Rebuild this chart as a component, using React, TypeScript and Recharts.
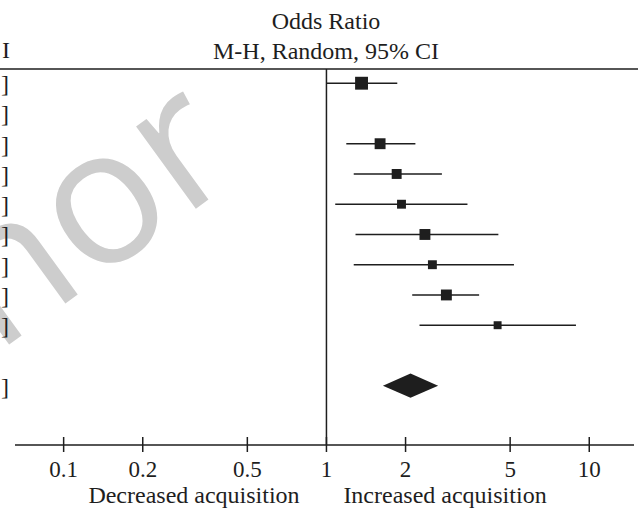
import React from 'react';
import { ScatterChart, Scatter, ErrorBar, XAxis, YAxis, ReferenceLine, ReferenceArea } from 'recharts';

// rows of the forest plot (row 10 is empty, row 11 is the pooled estimate)
const bracketRows = [1, 2, 3, 4, 5, 6, 7, 8, 9, 11];
const studyRows = [1, 3, 4, 5, 6, 7, 8, 9];
const studyOR = [1.36, 1.6, 1.85, 1.93, 2.37, 2.53, 2.86, 4.48];
const studyLow = [1.0, 1.19, 1.27, 1.08, 1.29, 1.27, 2.12, 2.26];
const studyHigh = [1.86, 2.18, 2.75, 3.44, 4.51, 5.17, 3.81, 8.9];
const studyWeight = [19.7, 14.1, 11.7, 9.4, 14.1, 9.4, 14.1, 7.5];

const totalRow = 11;
const totalOR = 2.06;
const totalLow = 1.64;
const totalHigh = 2.66;

const xTicks = [0.1, 0.2, 0.5, 1, 2, 5, 10];

const serif = "'Liberation Serif', 'Times New Roman', serif";
const ink = '#1e1e1e';

const studies = studyRows.map((row, i) => ({
    row,
    or: studyOR[i],
    weight: studyWeight[i],
    err: [studyOR[i] - studyLow[i], studyHigh[i] - studyOR[i]],
}));

const SquareMark = (props: any) => {
    const { cx, cy, payload } = props;
    const s = Math.sqrt(payload.weight) * 2.9;
    return <rect x={cx - s / 2} y={cy - s / 2} width={s} height={s} fill={ink} />;
};

const XTick = ({ x, y, payload }: any) => (
    <g>
        <line x1={x} x2={x} y1={y - 8} y2={y + 7} stroke={ink} strokeWidth={1.5} />
        <text x={x} y={y + 32} textAnchor="middle" fontFamily={serif} fontSize={23} fill={ink}>
            {String(payload.value)}
        </text>
    </g>
);

const YTick = ({ x, y }: any) => (
    <text x={x - 6} y={y + 9} textAnchor="end" fontFamily={serif} fontSize={24} fill={ink}>
        ]
    </text>
);

const Diamond = (props: any) => {
    const { x, y, width, height } = props;
    const mx = x + width / 2;
    const my = y + height / 2;
    return (
        <polygon
            points={`${x},${my} ${mx},${y} ${x + width},${my} ${mx},${y + height}`}
            fill={ink}
        />
    );
};

export default function App() {
    return (
        <div style={{ position: 'absolute', left: 0, top: 0, background: '#fff' }}>
            <ScatterChart width={638} height={512} margin={{ top: 69, right: 4, bottom: 7, left: 0 }}>
                <text
                    x={-4}
                    y={354}
                    transform="rotate(-36 -4 354)"
                    fontFamily="'Open Sans', sans-serif"
                    fontSize={190}
                    fill="#cdcdcd"
                >
                    hor
                </text>
                <XAxis
                    type="number"
                    dataKey="or"
                    scale="log"
                    domain={[0.0653, 14.8]}
                    allowDataOverflow
                    ticks={xTicks}
                    interval={0}
                    tick={<XTick />}
                    tickLine={false}
                    tickSize={0}
                    tickMargin={0}
                    height={60}
                    axisLine={{ stroke: ink, strokeWidth: 1.5 }}
                />
                <YAxis
                    type="number"
                    dataKey="row"
                    domain={[0.53, 12.96]}
                    reversed
                    allowDataOverflow
                    ticks={bracketRows}
                    interval={0}
                    width={15}
                    axisLine={false}
                    tickLine={false}
                    tickSize={0}
                    tickMargin={0}
                    tick={<YTick />}
                />
                <ReferenceLine x={1} stroke={ink} strokeWidth={1.5} />
                <ReferenceArea
                    x1={totalLow}
                    x2={totalHigh}
                    y1={totalRow - 0.4}
                    y2={totalRow + 0.4}
                    shape={<Diamond />}
                />
                <Scatter data={studies} shape={<SquareMark />} isAnimationActive={false}>
                    <ErrorBar dataKey="err" direction="x" width={0} stroke={ink} strokeWidth={1.6} />
                </Scatter>
                <line x1={0} x2={638} y1={69} y2={69} stroke={ink} strokeWidth={1.6} />
                <text x={10} y={58} textAnchor="end" fontFamily={serif} fontSize={24} fill={ink}>I</text>
                <text x={326} y={29} textAnchor="middle" fontFamily={serif} fontSize={24} fill={ink}>
                    Odds Ratio
                </text>
                <text x={326} y={59} textAnchor="middle" fontFamily={serif} fontSize={24} fill={ink}>
                    M-H, Random, 95% CI
                </text>
                <text x={194} y={503} textAnchor="middle" fontFamily={serif} fontSize={24} fill={ink}>
                    Decreased acquisition
                </text>
                <text x={445} y={503} textAnchor="middle" fontFamily={serif} fontSize={24} fill={ink}>
                    Increased acquisition
                </text>
            </ScatterChart>
        </div>
    );
}
